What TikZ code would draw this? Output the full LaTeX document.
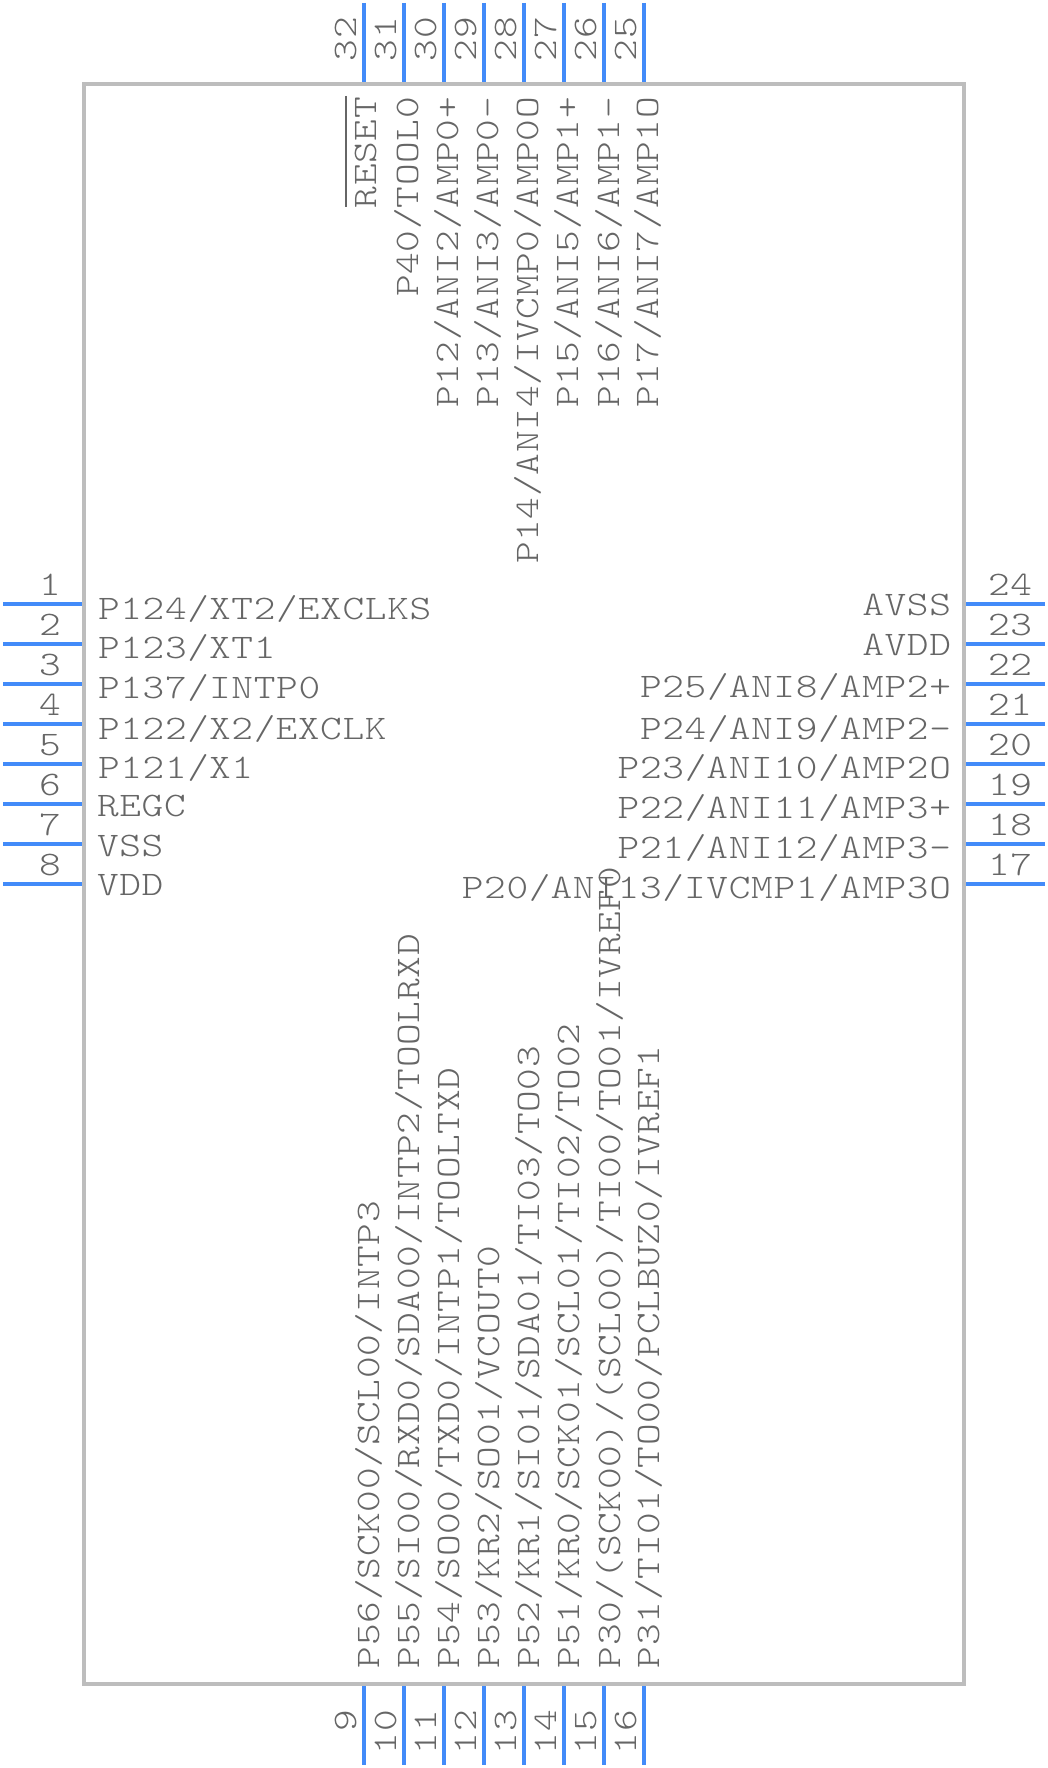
\documentclass[tikz,border=0pt]{standalone}
\usepackage{fontspec}
\newfontfamily\pinfont[FakeStretch=1.2,LetterSpace=2.0]{Latin Modern Mono Light}
\definecolor{pinblue}{HTML}{428BF9}
\definecolor{boxgrey}{HTML}{BDBDBD}
\definecolor{textgrey}{HTML}{666666}
\tikzset{
  pinline/.style={draw=pinblue,line width=4pt},
  body/.style={draw=boxgrey,line width=4pt},
  lbl/.style={inner sep=0pt,outer sep=0pt,text=textgrey,font=\pinfont\fontsize{34.4pt}{36pt}\selectfont},
  lw/.style={lbl,anchor=base west},
  le/.style={lbl,anchor=base east},
  up/.style={rotate=90},
}
\begin{document}
\begin{tikzpicture}[x=1pt,y=-1pt]
\useasboundingbox (0,0) rectangle (1048,1768);
\fill[white] (0,0) rectangle (1048,1768);
\draw[body] (84,84) rectangle (964,1684);
% left pins
\foreach \n/\py/\lb/\ly/\lx/\nx in {
 1/604/P124\slash XT2\slash EXCLKS/619/98/39,
 2/644/P123\slash XT1/658/98/39,
 3/684/P137\slash INTP0/698/98/39,
 4/724/P122\slash X2\slash EXCLK/739/98/39,
 5/764/P121\slash X1/778/98/39,
 6/804/REGC/816/97/39,
 7/844/VSS/856/97/39,
 8/884/VDD/895/97/39}{
  \coordinate (pa\n) at (3,\py);
  \coordinate (pb\n) at (82,\py);
  \draw[pinline] (pa\n) -- (pb\n);
  \node[lw] (num\n) at (\nx,595+\py-604) {\n};
  \node[lw] (lab\n) at (\lx,\ly) {\lb};
}
% right pins
\foreach \n/\py/\lb/\ly in {
 24/604/AVSS/615,
 23/644/AVDD/655,
 22/684/P25\slash ANI8\slash AMP2+/697,
 21/724/P24\slash ANI9\slash AMP2-/739,
 20/764/P23\slash ANI10\slash AMP2O/778,
 19/804/P22\slash ANI11\slash AMP3+/818,
 18/844/P21\slash ANI12\slash AMP3-/858,
 17/884/P20\slash ANI13\slash IVCMP1\slash AMP3O/898}{
  \coordinate (pa\n) at (966,\py);
  \coordinate (pb\n) at (1045,\py);
  \draw[pinline] (pa\n) -- (pb\n);
  \node[lw] (num\n) at (988,595+\py-604) {\n};
  \node[le] (lab\n) at (951,\ly) {\lb};
}
% top pins
\foreach \n/\px/\lb/\bx in {
 32/364/RESET/376,
 31/404/P40\slash TOOL0/418,
 30/444/P12\slash ANI2\slash AMP0+/458,
 29/484/P13\slash ANI3\slash AMP0-/498,
 28/524/P14\slash ANI4\slash IVCMP0\slash AMP0O/538,
 27/564/P15\slash ANI5\slash AMP1+/578,
 26/604/P16\slash ANI6\slash AMP1-/619,
 25/644/P17\slash ANI7\slash AMP1O/658}{
  \coordinate (pa\n) at (\px,3);
  \coordinate (pb\n) at (\px,82);
  \draw[pinline] (pa\n) -- (pb\n);
  \node[le,up] (num\n) at (\px-8,17) {\n};
  \node[le,up] (lab\n) at (\bx,97) {\lb};
}
\draw[textgrey,line width=2pt] (346,96) -- (346,207);
% bottom pins
\foreach \n/\px/\lb/\bx in {
 9/364/P56\slash SCK00\slash SCL00\slash INTP3/379,
 10/404/P55\slash SI00\slash RXD0\slash SDA00\slash INTP2\slash TOOLRXD/419,
 11/444/P54\slash SO00\slash TXD0\slash INTP1\slash TOOLTXD/459,
 12/484/P53\slash KR2\slash SO01\slash VCOUT0/499,
 13/524/P52\slash KR1\slash SI01\slash SDA01\slash TI03\slash TO03/539,
 14/564/P51\slash KR0\slash SCK01\slash SCL01\slash TI02\slash TO02/579,
 15/604/P30\slash (SCK00)\slash (SCL00)\slash TI00\slash TO01\slash IVREF0/620,
 16/644/P31\slash TI01\slash TO00\slash PCLBUZ0\slash IVREF1/659}{
  \coordinate (pa\n) at (\px,1686);
  \coordinate (pb\n) at (\px,1765);
  \draw[pinline] (pa\n) -- (pb\n);
  \node[le,up] (num\n) at (\px-8,1710) {\n};
  \node[lw,up] (lab\n) at (\bx,1668) {\lb};
}
\end{tikzpicture}
\end{document}
